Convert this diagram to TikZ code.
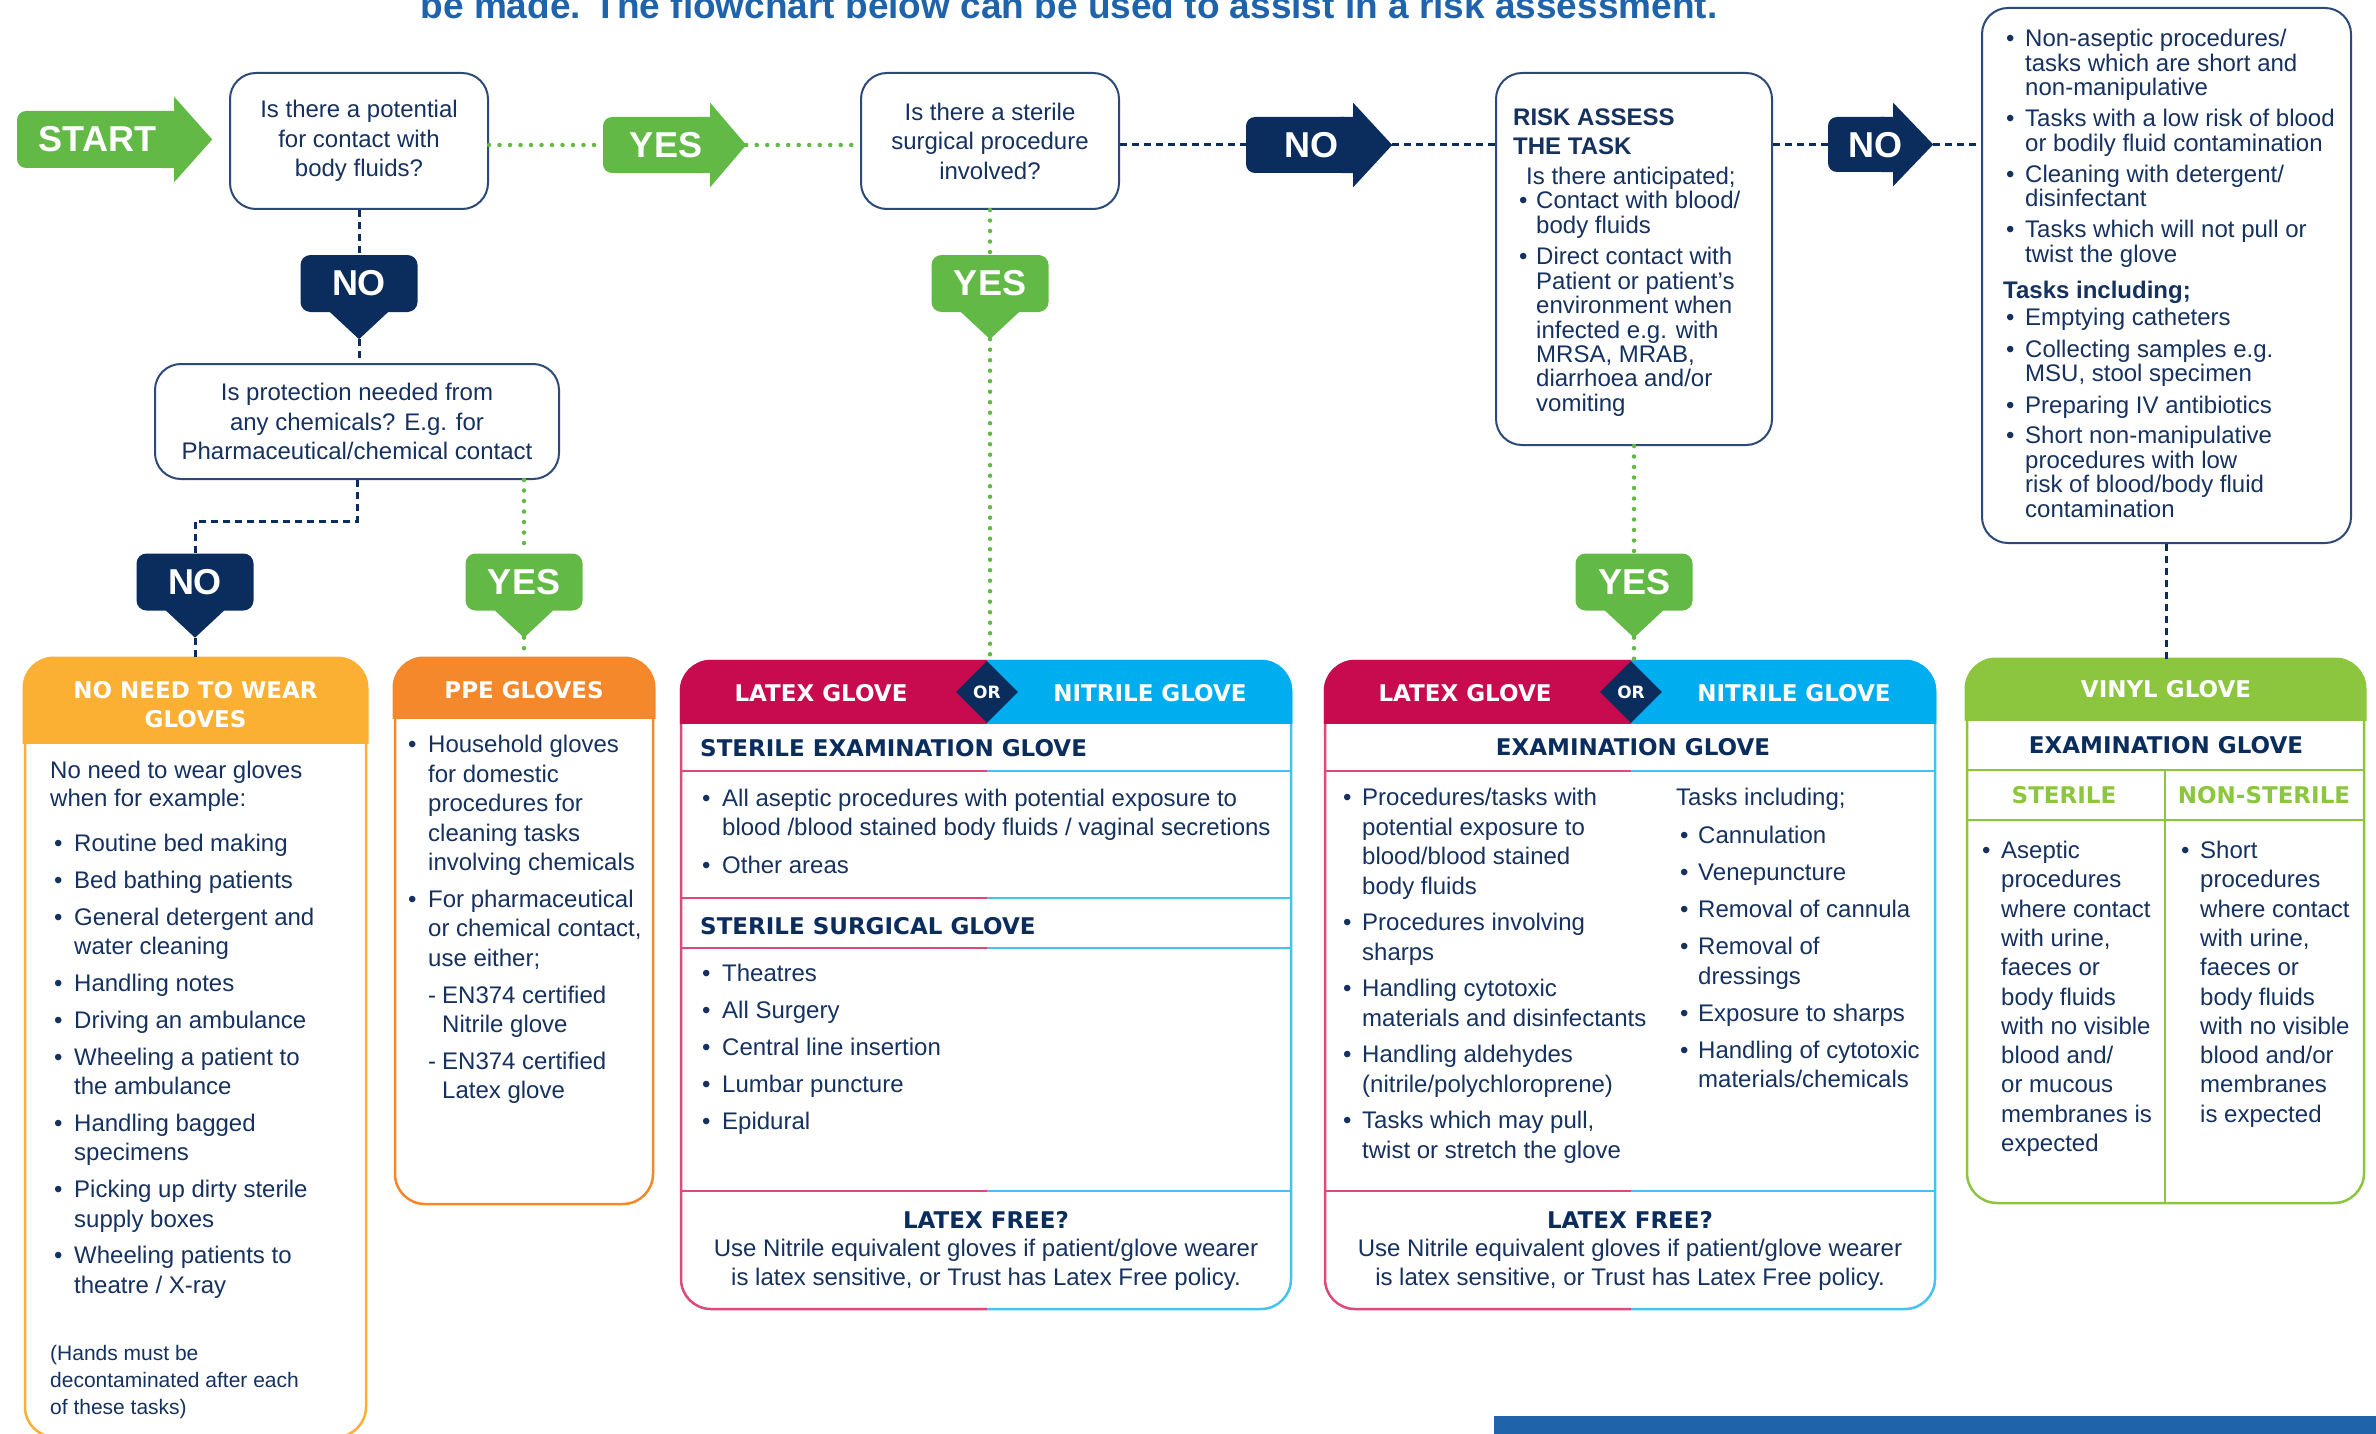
\documentclass[tikz,border=0pt]{standalone}
\usepackage{fontspec}
\setmainfont{Liberation Sans}
\newfontfamily\hdfont{DejaVu Sans}
\usetikzlibrary{calc,shapes.geometric}
\definecolor{navy}{HTML}{0B2D5E}
\definecolor{txt}{HTML}{15315F}
\definecolor{qborder}{HTML}{2B4A7A}
\definecolor{ygreen}{HTML}{63B946}
\definecolor{vgreen}{HTML}{8CC63F}
\definecolor{yorange}{HTML}{FBB034}
\definecolor{porange}{HTML}{F4882B}
\definecolor{crim}{HTML}{C80B4E}
\definecolor{cyn}{HTML}{00AEEF}
\definecolor{crimL}{HTML}{DC4A7C}
\definecolor{cynL}{HTML}{45C2F1}
\definecolor{tblue}{HTML}{1F63AA}
\newlength\bulw
\newcommand\bodyf{\fontsize{24}{29.5}\selectfont}
\newcommand\tightf{\fontsize{24}{23.8}\selectfont}
\newcommand\notef{\fontsize{21}{27}\selectfont}
\newcommand\hdf{\hdfont\bfseries\fontsize{23}{29}\selectfont}
\newcommand\bigf{\bfseries\fontsize{36}{36}\selectfont}
\newcommand\bl{\makebox[\bulw][l]{\textbullet}}
\newcommand\mytab[3]{{#1\setlength\bulw{#2}\begin{tabular}[t]{@{}l@{}l@{}}#3\end{tabular}}}
\newcommand\plaintab[2]{{#1\begin{tabular}[t]{@{}l@{}}#2\end{tabular}}}
\newcommand\arrhead[3]{%
  \fill[#2] ($(#1.north east)+(-12,0)$) -- (#1.north east) -- ($(#1.north east)+(0,-14)$)
    -- ($(#1.east)+(#3,0)$) -- ($(#1.south east)+(0,14)$) -- (#1.south east)
    -- ($(#1.south east)+(-12,0)$) -- cycle;
  \coordinate (#1tip) at ($(#1.east)+(#3,0)$);}
\newcommand\callptr[2]{%
  \fill[#2] ($(#1.south)+(-30,-1)$) -- ($(#1.south)+(30,-1)$) -- ($(#1.south)+(0,27)$) -- cycle;
  \coordinate (#1tip) at ($(#1.south)+(0,27)$);}
% #1 xl, #2 xsplit, #3 xr, #4 ytop, #5 ybot, #6 dividers
\newcommand\twobox[6]{%
  \begin{scope}
    \clip (#1-5,#4-5) rectangle (#2,#5+5);
    \draw[crimL, line width=2.5pt, rounded corners=30pt] (#1,#4) rectangle (#3,#5);
    \foreach \yy in {#6} {\draw[crimL, line width=2.5pt] (#1,\yy) -- (#3,\yy);}
    \begin{scope}\clip (#1-5,#4-5) rectangle (#3+5,723);
      \filldraw[crim, line width=2.5pt, rounded corners=30pt] (#1,#4) rectangle (#3,#5);\end{scope}
  \end{scope}
  \begin{scope}
    \clip (#2,#4-5) rectangle (#3+5,#5+5);
    \draw[cynL, line width=2.5pt, rounded corners=30pt] (#1,#4) rectangle (#3,#5);
    \foreach \yy in {#6} {\draw[cynL, line width=2.5pt] (#1,\yy) -- (#3,\yy);}
    \begin{scope}\clip (#1-5,#4-5) rectangle (#3+5,723);
      \filldraw[cyn, line width=2.5pt, rounded corners=30pt] (#1,#4) rectangle (#3,#5);\end{scope}
  \end{scope}}
\begin{document}
\begin{tikzpicture}[x=1pt,y=-1pt,
  qbox/.style={draw=qborder, line width=2pt, rounded corners=26pt, fill=white, align=center, font=\bodyf, text=txt, inner sep=0pt},
  navyline/.style={draw=navy, line width=3pt, dash pattern=on 7pt off 5pt},
  greenline/.style={draw=ygreen, line width=4.5pt, dash pattern=on 0pt off 10.5pt, line cap=round},
  shaft/.style={rounded corners=9pt, inner sep=0pt},
  lbl/.style={text=white, font=\bigf, inner sep=0pt},
  callbody/.style={rounded corners=10pt, minimum width=117pt, minimum height=57pt, inner sep=0pt, text=white, font=\bigf},
  tx/.style={inner sep=0pt, text=txt, anchor=base west},
  hd/.style={inner sep=0pt, font=\hdf},
  gbox/.style={line width=2.5pt, rounded corners=30pt, inner sep=0pt}
]
\useasboundingbox (0,0) rectangle (2376,1434);
\clip (0,0) rectangle (2376,1434);
\fill[white] (0,0) rectangle (2376,1434);

% title (cut at top)
\node[anchor=base, inner sep=0pt, text=tblue, font=\bfseries\fontsize{37}{40}\selectfont] (title) at (1069,19) {be made. The flowchart below can be used to assist in a risk assessment.};

% question boxes
\node[qbox, minimum width=258pt, minimum height=136pt] (q1) at (359,141) {Is there a potential\\for contact with\\body fluids?};
\node[qbox, minimum width=258pt, minimum height=136pt] (q2) at (990,141) {Is there a sterile\\surgical procedure\\involved?};
\node[qbox, minimum width=404pt, minimum height=115pt] (q3) at (357,421.5) {Is protection needed from\\any chemicals? E.g. for\\Pharmaceutical/chemical contact};
\node[qbox, minimum width=276pt, minimum height=372pt] (ra) at (1634,259) {};
\node[qbox, minimum width=369pt, minimum height=535pt] (crit) at (2166.5,275.5) {};

% right arrows
\node[shaft, fill=ygreen, minimum width=157pt, minimum height=57pt] (start) at (95.5,139.5) {};
\arrhead{start}{ygreen}{38}
\node[lbl] (startt) at (97.5,139.5) {START};
\node[shaft, fill=ygreen, minimum width=107pt, minimum height=56pt] (yes1) at (656.5,145) {};
\arrhead{yes1}{ygreen}{36}
\node[lbl] (yes1t) at (666,145) {YES};
\node[shaft, fill=navy, minimum width=107pt, minimum height=56pt] (no1) at (1299.5,145) {};
\arrhead{no1}{navy}{39}
\node[lbl] (no1t) at (1311,145) {NO};
\node[shaft, fill=navy, minimum width=65pt, minimum height=55pt] (no2) at (1860.5,144.5) {};
\arrhead{no2}{navy}{40}
\node[lbl] (no2t) at (1875,145) {NO};

% callouts
\node[callbody, fill=navy] (noA) at (359,283.5) {NO};
\callptr{noA}{navy}
\node[callbody, fill=ygreen] (yesC) at (990,283.5) {YES};
\callptr{yesC}{ygreen}
\node[callbody, fill=navy] (noB) at (195,582) {NO};
\callptr{noB}{navy}
\node[callbody, fill=ygreen] (yesB) at (524,582) {YES};
\callptr{yesB}{ygreen}
\node[callbody, fill=ygreen] (yesD) at (1634,582) {YES};
\callptr{yesD}{ygreen}

% bottom boxes
\node[gbox, draw=yorange, minimum width=341pt, minimum height=778pt] (boxA) at (195.5,1048) {};
\begin{scope}\clip (15,650) rectangle (375,743);
\filldraw[yorange, line width=2.5pt, rounded corners=30pt] (boxA.north west) rectangle (boxA.south east);\end{scope}
\node[gbox, draw=porange, minimum width=258pt, minimum height=545pt] (boxB) at (524,931.5) {};
\begin{scope}\clip (385,650) rectangle (663,718);
\filldraw[porange, line width=2.5pt, rounded corners=30pt] (boxB.north west) rectangle (boxB.south east);\end{scope}
\node[gbox, minimum width=610pt, minimum height=648pt] (boxC) at (986,985) {};
\twobox{681}{987}{1291}{661}{1309}{771,898,948,1191}
\node[gbox, minimum width=610pt, minimum height=648pt] (boxD) at (1630,985) {};
\twobox{1325}{1631}{1935}{661}{1309}{771,1191}
\node[gbox, draw=vgreen, minimum width=397pt, minimum height=543pt] (boxE) at (2165.5,931.5) {};
\begin{scope}\clip (1957,650) rectangle (2374,720);
\filldraw[vgreen, line width=2.5pt, rounded corners=30pt] (boxE.north west) rectangle (boxE.south east);\end{scope}
\draw[vgreen, line width=2.5pt] (1967,770) -- (2364,770) (1967,820) -- (2364,820) (2165,770) -- (2165,1203);

% connectors
\coordinate (bendA) at (195,521);
\draw[greenline] (q1.east |- yes1) -- (yes1.west);
\draw[greenline] (yes1tip) -- (yes1tip -| q2.west);
\draw[navyline] (q2.east |- no1) -- (no1.west);
\draw[navyline] (no1tip) -- (no1tip -| ra.west);
\draw[navyline] (ra.east |- no2) -- (no2.west);
\draw[navyline] (no2tip) -- (no2tip -| crit.west);
\draw[navyline] (q1.south) -- (noA.north);
\draw[navyline] (noAtip) -- (noAtip |- q3.north);
\draw[navyline] (q3.south) |- (bendA) -- (noB.north);
\draw[navyline] (noBtip) -- (noBtip |- boxA.north);
\draw[greenline] (yesB.north |- q3.south) -- (yesB.north);
\draw[greenline] (yesBtip) -- (yesBtip |- boxB.north);
\draw[greenline] (q2.south) -- (yesC.north);
\draw[greenline] (yesCtip) -- (yesCtip |- boxC.north);
\draw[greenline] (ra.south) -- (yesD.north);
\draw[greenline] (yesDtip) -- (yesDtip |- boxD.north);
\draw[navyline] (crit.south) -- (crit.south |- boxE.north);

% RA text
\node[tx] (rah) at (1513,125.5) {\plaintab{\bfseries\fontsize{24}{29}\selectfont}{RISK ASSESS\\THE TASK}};
\node[tx] (raq) at (1526,184.5) {\plaintab{\bodyf}{Is there anticipated;}};
\node[tx] (ral) at (1519,208.5) {\mytab{\tightf}{17pt}{%
  \bl&Contact with blood/\\&body fluids\\[7pt]%
  \bl&Direct contact with\\&Patient or patient’s\\&environment when\\&infected e.g. with\\&MRSA, MRAB,\\&diarrhoea and/or\\&vomiting}};

% criteria text
\node[tx] (cl1) at (2006,46.5) {\mytab{\tightf}{19pt}{%
  \bl&Non-aseptic procedures/\\&tasks which are short and\\&non-manipulative\\[6.5pt]%
  \bl&Tasks with a low risk of blood\\&or bodily fluid contamination\\[6.5pt]%
  \bl&Cleaning with detergent/\\&disinfectant\\[6.5pt]%
  \bl&Tasks which will not pull or\\&twist the glove}};
\node[tx] (cth) at (2003,298.5) {\plaintab{\bfseries\fontsize{24}{29}\selectfont}{Tasks including;}};
\node[tx] (cl2) at (2006,325.5) {\mytab{\tightf}{19pt}{%
  \bl&Emptying catheters\\[7pt]%
  \bl&Collecting samples e.g.\\&MSU, stool specimen\\[7pt]%
  \bl&Preparing IV antibiotics\\[6pt]%
  \bl&Short non-manipulative\\&procedures with low\\&risk of blood/body fluid\\&contamination}};

% box A
\node[hd, text=white, align=center] (ahd) at (195.5,704.5) {NO NEED TO WEAR\\GLOVES};
\node[tx] (aintro) at (50,778.5) {\plaintab{\fontsize{24}{28}\selectfont}{No need to wear gloves\\when for example:}};
\node[tx] (alist) at (54,851.5) {\mytab{\bodyf}{20pt}{%
  \bl&Routine bed making\\[7.3pt]%
  \bl&Bed bathing patients\\[7.3pt]%
  \bl&General detergent and\\&water cleaning\\[7.3pt]%
  \bl&Handling notes\\[7.3pt]%
  \bl&Driving an ambulance\\[7.3pt]%
  \bl&Wheeling a patient to\\&the ambulance\\[7.3pt]%
  \bl&Handling bagged\\&specimens\\[7.3pt]%
  \bl&Picking up dirty sterile\\&supply boxes\\[7.3pt]%
  \bl&Wheeling patients to\\&theatre / X-ray}};
\node[tx] (anote) at (50,1360) {\plaintab{\notef}{(Hands must be\\decontaminated after each\\of these tasks)}};

% box B
\node[hd, text=white] (bhd) at (524,690) {PPE GLOVES};
\node[tx] (blist) at (408,752.5) {\mytab{\bodyf}{20pt}{%
  \bl&Household gloves\\&for domestic\\&procedures for\\&cleaning tasks\\&involving chemicals\\[7.3pt]%
  \bl&For pharmaceutical\\&or chemical contact,\\&use either;\\[7.3pt]%
  &-\hspace{6pt}EN374 certified\\&\hspace*{14pt}Nitrile glove\\[7.3pt]%
  &-\hspace{6pt}EN374 certified\\&\hspace*{14pt}Latex glove}};

% box C
\node[hd, text=white] (latC) at (821,693) {LATEX GLOVE};
\node[hd, text=white] (nitC) at (1150,693) {NITRILE GLOVE};
\node[diamond, fill=navy, minimum width=62pt, minimum height=62pt, inner sep=0pt, text=white, font=\hdfont\bfseries\fontsize{17}{17}\selectfont] (orC) at (987,692) {OR};
\node[hd, text=navy, anchor=base west] (sexC) at (700,756.5) {STERILE EXAMINATION GLOVE};
\node[tx] (cl1C) at (702,806.5) {\mytab{\fontsize{24}{28.5}\selectfont}{20pt}{%
  \bl&All aseptic procedures with potential exposure to\\&blood /blood stained body fluids / vaginal secretions\\[9.5pt]%
  \bl&Other areas}};
\node[hd, text=navy, anchor=base west] (ssgC) at (700,934.5) {STERILE SURGICAL GLOVE};
\node[tx] (cl2C) at (702,981.5) {\mytab{\bodyf}{20pt}{%
  \bl&Theatres\\[7.5pt]\bl&All Surgery\\[7.5pt]\bl&Central line insertion\\[7.5pt]\bl&Lumbar puncture\\[7.5pt]\bl&Epidural}};
\node[hd, text=navy] (lfC) at (986,1220) {LATEX FREE?};
\node[inner sep=0pt, font=\bodyf, text=txt, align=center] (lftC) at (986,1265) {Use Nitrile equivalent gloves if patient/glove wearer\\is latex sensitive, or Trust has Latex Free policy.};

% box D
\node[hd, text=white] (latD) at (1465,693) {LATEX GLOVE};
\node[hd, text=white] (nitD) at (1794,693) {NITRILE GLOVE};
\node[diamond, fill=navy, minimum width=62pt, minimum height=62pt, inner sep=0pt, text=white, font=\hdfont\bfseries\fontsize{17}{17}\selectfont] (orD) at (1631,692) {OR};
\node[hd, text=navy] (exD) at (1633,747) {EXAMINATION GLOVE};
\node[tx] (dl1) at (1343,805.5) {\mytab{\bodyf}{19pt}{%
  \bl&Procedures/tasks with\\&potential exposure to\\&blood/blood stained\\&body fluids\\[7pt]%
  \bl&Procedures involving\\&sharps\\[7pt]%
  \bl&Handling cytotoxic\\&materials and disinfectants\\[7pt]%
  \bl&Handling aldehydes\\&(nitrile/polychloroprene)\\[7pt]%
  \bl&Tasks which may pull,\\&twist or stretch the glove}};
\node[tx] (dth) at (1676,805.5) {\plaintab{\bodyf}{Tasks including;}};
\node[tx] (dl2) at (1680,843.5) {\mytab{\bodyf}{18pt}{%
  \bl&Cannulation\\[7.5pt]\bl&Venepuncture\\[7.5pt]\bl&Removal of cannula\\[7.5pt]%
  \bl&Removal of\\&dressings\\[7.5pt]\bl&Exposure to sharps\\[7.5pt]%
  \bl&Handling of cytotoxic\\&materials/chemicals}};
\node[hd, text=navy] (lfD) at (1630,1220) {LATEX FREE?};
\node[inner sep=0pt, font=\bodyf, text=txt, align=center] (lftD) at (1630,1265) {Use Nitrile equivalent gloves if patient/glove wearer\\is latex sensitive, or Trust has Latex Free policy.};

% box E
\node[hd, text=white] (vhd) at (2166,689) {VINYL GLOVE};
\node[hd, text=navy] (exE) at (2166,745) {EXAMINATION GLOVE};
\node[hd, text=vgreen] (stE) at (2064,795) {STERILE};
\node[hd, text=vgreen] (nstE) at (2264,795) {NON-STERILE};
\node[tx] (el1) at (1982,858.5) {\mytab{\fontsize{24}{29.3}\selectfont}{19pt}{%
  \bl&Aseptic\\&procedures\\&where contact\\&with urine,\\&faeces or\\&body fluids\\&with no visible\\&blood and/\\&or mucous\\&membranes is\\&expected}};
\node[tx] (el2) at (2181,858.5) {\mytab{\fontsize{24}{29.3}\selectfont}{19pt}{%
  \bl&Short\\&procedures\\&where contact\\&with urine,\\&faeces or\\&body fluids\\&with no visible\\&blood and/or\\&membranes\\&is expected}};

% bottom bar
\fill[tblue] (1494,1416) rectangle (2376,1434);
\end{tikzpicture}
\end{document}
